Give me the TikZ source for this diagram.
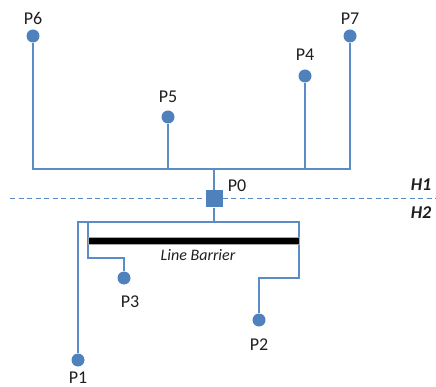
\documentclass[tikz,border=0pt]{standalone}
\usepackage{fontspec}
\setmainfont{Carlito}
\definecolor{pblue}{HTML}{4F81BD}
\definecolor{lblue}{HTML}{5B8CC8}
\definecolor{lbltxt}{HTML}{1F1F1F}
\begin{document}
\begin{tikzpicture}[x=1pt,y=-1pt,
  dot/.style={circle,fill=pblue,inner sep=0pt,minimum size=13pt},
  hub/.style={rectangle,fill=pblue,inner sep=0pt,minimum size=17pt},
  wire/.style={draw=lblue,line width=1.3pt},
  lbl/.style={font=\fontsize{18}{20}\selectfont,text=lbltxt,inner sep=0pt},
  hlbl/.style={font=\fontsize{18}{20}\selectfont\bfseries\itshape,text=lbltxt,inner sep=0pt},
  barrier/.style={draw=gray!70,fill=black,line width=0.6pt}]
\useasboundingbox (0,0) rectangle (436,387);
% dashed horizon
\coordinate (dl) at (10,199);
\coordinate (dr) at (436,199);
\draw[lblue,line width=1pt,dash pattern=on 5pt off 3.5pt] (dl) -- (dr);
% nodes
\node[dot] (p6) at (33,36) {};
\node[dot] (p5) at (168,117) {};
\node[dot] (p4) at (305,76) {};
\node[dot] (p7) at (350,36) {};
\node[hub] (p0) at (214,199) {};
\node[dot] (p1) at (78,360) {};
\node[dot] (p3) at (124,278) {};
\node[dot] (p2) at (259,320) {};
% labels
\node[lbl] at (33,18) {P6};
\node[lbl] at (168,97) {P5};
\node[lbl] at (305,55) {P4};
\node[lbl] at (350,19) {P7};
\node[lbl] at (237,186) {P0};
\node[lbl] at (78,378) {P1};
\node[lbl] at (130,302) {P3};
\node[lbl] at (259,345) {P2};
\node[hlbl] at (421,185) {H1};
\node[hlbl] at (421,213) {H2};
% upper bus
\coordinate (tl) at (33,169);
\coordinate (tr) at (350,169);
\coordinate (t0) at (214,169);
\coordinate (t5) at (168,169);
\coordinate (t4) at (305,169);
\draw[wire] (p6) -- (tl) -- (tr) -- (p7);
\draw[wire] (p5) -- (t5);
\draw[wire] (p4) -- (t4);
\draw[wire] (t0) -- (p0);
% lower bus
\coordinate (b0) at (214,222);
\coordinate (bl) at (78,222);
\coordinate (br) at (299,222);
\coordinate (b3) at (88,222);
\coordinate (b3a) at (88,258);
\coordinate (b3b) at (124,258);
\coordinate (b2a) at (299,278);
\coordinate (b2b) at (259,278);
\draw[wire] (p0) -- (b0);
\draw[wire] (p1) -- (bl) -- (br) -- (b2a) -- (b2b) -- (p2);
\draw[wire] (b3) -- (b3a) -- (b3b) -- (p3);
% barrier
\draw[barrier] (88,237.5) rectangle (299,244.5);
\node[font=\fontsize{16}{18}\selectfont\itshape,text=lbltxt,inner sep=0pt] (lb) at (198,255) {Line Barrier};
\end{tikzpicture}
\end{document}
